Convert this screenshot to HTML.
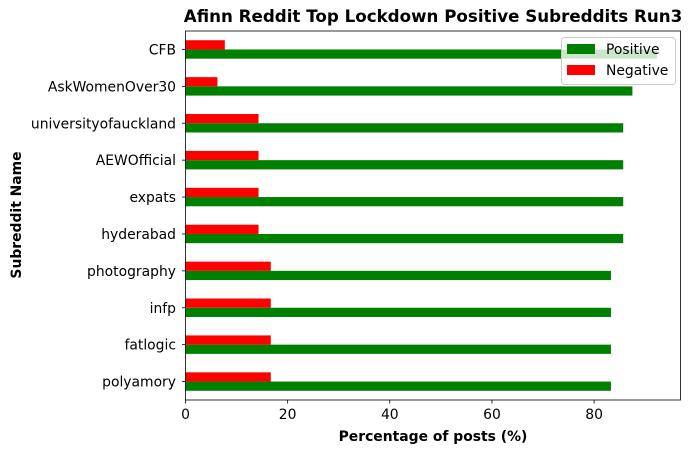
<!DOCTYPE html>
<html><head><meta charset="utf-8"><style>
body{margin:0;background:#fff;font-family:"Liberation Sans","DejaVu Sans",sans-serif;}
svg text{font-family:"DejaVu Sans","Liberation Sans",sans-serif;}
</style></head><body>
<svg id="c" width="691" height="453" xmlns="http://www.w3.org/2000/svg"></svg>
<script>
const categories=["polyamory","fatlogic","infp","photography","hyderabad","expats","AEWOfficial","universityofauckland","AskWomenOver30","CFB"];
const positive=[83.3,83.3,83.3,83.3,85.7,85.7,85.7,85.7,87.5,92.3];
const negative=[16.7,16.7,16.7,16.7,14.3,14.3,14.3,14.3,6.25,7.7];
const xticks=[0,20,40,60,80];
const NS="http://www.w3.org/2000/svg";
const svg=document.getElementById('c');
const L=185.5,R=680.5,T=31,B=400;
const xmax=Math.max(...positive,...negative)*1.05;
const xs=v=>L+v/xmax*(R-L);
const ys=v=>B-(v+0.5)/categories.length*(B-T);
function el(t,a,p){const e=document.createElementNS(NS,t);for(const k in a)e.setAttribute(k,a[k]);(p||svg).appendChild(e);return e;}
categories.forEach((c,i)=>{
  const g=el('rect',{x:xs(0),y:ys(i),width:xs(positive[i])-xs(0),height:ys(i-0.25)-ys(i),fill:'#008000'});
  
  
  const r=el('rect',{x:xs(0),y:ys(i+0.25),width:xs(negative[i])-xs(0),height:ys(i)-ys(i+0.25),fill:'#ff0000'});
  
  
  el('line',{x1:L-3.5,x2:L,y1:ys(i),y2:ys(i),stroke:'#000','stroke-width':0.8});
  const t=el('text',{x:L-9.5,y:ys(i)+5,'text-anchor':'end','font-size':13.9,fill:'#000'});
  t.textContent=c;
  
  
});
xticks.forEach(v=>{
  el('line',{x1:xs(v),x2:xs(v),y1:B,y2:B+3.5,stroke:'#000','stroke-width':0.8});
  const t=el('text',{x:xs(v),y:B+19,'text-anchor':'middle','font-size':13.9,fill:'#000'});
  t.textContent=v;
  
  
});
el('rect',{x:L,y:T,width:R-L,height:B-T,fill:'none',stroke:'#000','stroke-width':0.8});
</script>
<svg style="position:absolute;left:0;top:0" width="691" height="453" xmlns="http://www.w3.org/2000/svg">
<text x="433" y="22" text-anchor="middle" font-size="16.7" font-weight="bold" font-family="DejaVu Sans,sans-serif">Afinn Reddit Top Lockdown Positive Subreddits Run3</text>
<text x="433" y="441" text-anchor="middle" font-size="13.9" font-weight="bold" font-family="DejaVu Sans,sans-serif">Percentage of posts (%)</text>
<text transform="translate(21,215) rotate(-90)" text-anchor="middle" font-size="13.9" font-weight="bold" font-family="DejaVu Sans,sans-serif">Subreddit Name</text>
<g>
<rect x="561.5" y="37.5" width="114" height="47" rx="3" fill="#fff" fill-opacity="0.8" stroke="#ccc"/>
<rect x="567" y="44" width="28" height="10" fill="#008000"/>
<text x="606" y="54" font-size="13.9" font-family="DejaVu Sans,sans-serif">Positive</text>
<rect x="567" y="65" width="28" height="10" fill="#ff0000"/>
<text x="606" y="75" font-size="13.9" font-family="DejaVu Sans,sans-serif">Negative</text>
</g>
</svg>
</body></html>
